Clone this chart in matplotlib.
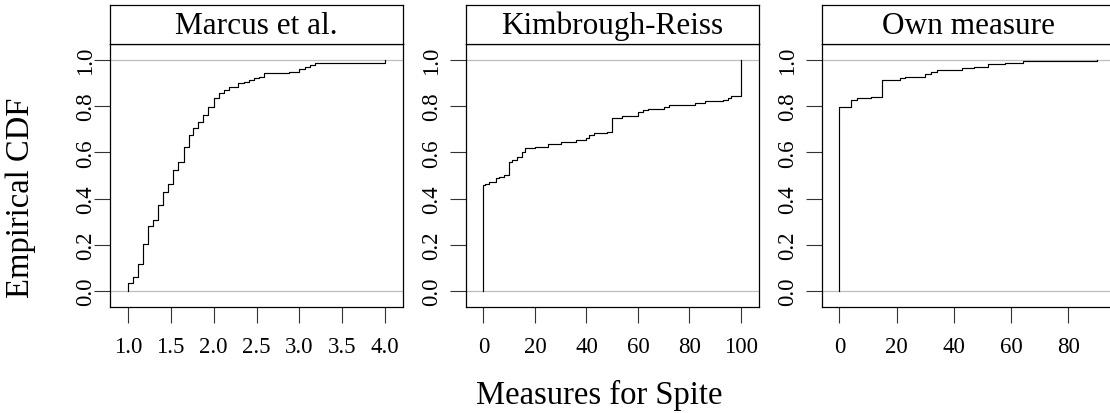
import numpy as np
import matplotlib
matplotlib.use("Agg")
import matplotlib.pyplot as plt

plt.rcParams['font.family'] = ['Liberation Serif', 'DejaVu Serif']

# ---- data (step locations and empirical CDF values) ----
panel_titles = ["Marcus et al.", "Kimbrough-Reiss", "Own measure"]

marcus_x = [1.00, 1.06, 1.12, 1.18, 1.24, 1.29, 1.35, 1.41, 1.47, 1.53, 1.59,
            1.65, 1.71, 1.76, 1.82, 1.88, 1.94, 2.00, 2.06, 2.12, 2.18, 2.29,
            2.35, 2.41, 2.47, 2.53, 2.59, 2.88, 3.00, 3.06, 3.12, 3.18, 4.00]
marcus_F = [0.036, 0.059, 0.117, 0.204, 0.282, 0.306, 0.371, 0.429, 0.465,
            0.522, 0.559, 0.624, 0.675, 0.704, 0.733, 0.762, 0.798, 0.834,
            0.855, 0.870, 0.884, 0.899, 0.906, 0.913, 0.921, 0.928, 0.945,
            0.950, 0.961, 0.971, 0.978, 0.987, 1.000]

kr_x = [0, 0.5, 2, 5, 6, 8, 10, 11, 13, 15, 16, 20, 25, 30, 36, 40, 41, 43,
        48, 50, 54, 60, 62, 64, 70, 72, 82, 86, 93, 95, 96, 100]
kr_F = [0.458, 0.465, 0.473, 0.488, 0.495, 0.501, 0.559, 0.568, 0.580, 0.603,
        0.617, 0.625, 0.636, 0.646, 0.655, 0.664, 0.675, 0.683, 0.690, 0.748,
        0.757, 0.773, 0.784, 0.789, 0.798, 0.806, 0.812, 0.822, 0.827, 0.837,
        0.844, 1.000]

own_x = [0, 4, 6, 11, 15, 21, 23, 30, 32, 34, 43, 47, 52, 58, 64, 90]
own_F = [0.798, 0.827, 0.834, 0.841, 0.913, 0.921, 0.928, 0.938, 0.949,
         0.957, 0.964, 0.971, 0.981, 0.988, 0.994, 1.000]

x_ticks = [[1.0, 1.5, 2.0, 2.5, 3.0, 3.5, 4.0],
           [0, 20, 40, 60, 80, 100],
           [0, 20, 40, 60, 80]]
x_ticklabels = [["1.0", "1.5", "2.0", "2.5", "3.0", "3.5", "4.0"],
                ["0", "20", "40", "60", "80", "100"],
                ["0", "20", "40", "60", "80"]]
y_ticks = [0.0, 0.2, 0.4, 0.6, 0.8, 1.0]
y_ticklabels = ["0.0", "0.2", "0.4", "0.6", "0.8", "1.0"]

xs_all = [marcus_x, kr_x, own_x]
Fs_all = [marcus_F, kr_F, own_F]

# ---- layout ----
W, H = 1110, 414
fig = plt.figure(figsize=(W / 100, H / 100), dpi=100)

lefts = [110, 465.7, 821.7]
pw = 293
plot_top, plot_bot = 45, 308
strip_top = 6
ytick_pads = [-1.5, 6.0, 5.5]

for i in range(3):
    l = lefts[i]
    ax = fig.add_axes([l / W, (H - plot_bot) / H, pw / W, (plot_bot - plot_top) / H])
    sx = fig.add_axes([l / W, (H - plot_top) / H, pw / W, (plot_top - strip_top) / H])

    x = np.asarray(xs_all[i], float)
    F = np.asarray(Fs_all[i], float)
    ax.axhline(0, color='#bebebe', lw=0.9, zorder=1)
    ax.axhline(1, color='#bebebe', lw=0.9, zorder=1)
    ax.step(np.r_[x[0], x], np.r_[0.0, F], where='post', color='black', lw=0.85, zorder=2)

    rng = x.max() - x.min()
    ax.set_xlim(x.min() - 0.069 * rng, x.max() + 0.069 * rng)
    ax.set_ylim(-0.069, 1.069)
    ax.set_xticks(x_ticks[i])
    ax.set_xticklabels(x_ticklabels[i], fontsize=16.5)
    ax.set_yticks(y_ticks)
    ax.set_yticklabels(y_ticklabels, fontsize=16.5, rotation=90, va='center')
    ax.tick_params(axis='both', length=11.2, width=0.8, color='#333333')
    ax.tick_params(axis='x', pad=10)
    ax.tick_params(axis='y', pad=ytick_pads[i])
    for s in ax.spines.values():
        s.set_linewidth(0.9)

    sx.set_xticks([])
    sx.set_yticks([])
    for s in sx.spines.values():
        s.set_linewidth(0.9)
    sx.text(0.5, 0.47, panel_titles[i], transform=sx.transAxes, ha='center',
            va='center', fontsize=22.5)

fig.text(599 / W, 1 - 395 / H, "Measures for Spite", ha='center', va='center', fontsize=23.5)
fig.text(21 / W, 1 - 198 / H, "Empirical CDF", ha='center', va='center', rotation=90, fontsize=23.5)

fig.savefig("out.png", dpi=100)
